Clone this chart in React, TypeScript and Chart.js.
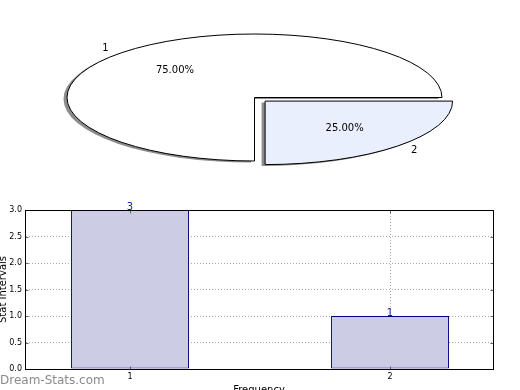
import React, { useEffect, useRef } from "react";
import { Chart, registerables } from "chart.js";

Chart.register(...registerables);

// ---- data ----
const pieLabels = ["1", "2"];
const pieValues = [75, 25];
const pieColors = ["#ffffff", "#e9effc"];
const pieExplode = [0, 60];

const barX = [1, 2];
const barCounts = [3, 1];
const xTicks = [1, 2];
const yTicks = [0, 0.5, 1, 1.5, 2, 2.5, 3];
const xMin = 0.596;
const xMax = 2.396;

// ---- layout constants ----
const PIE_CX = 254.5;
const PIE_CY = 97.5;
const PIE_RX = 187.5;
const PIE_RY = 63.5;
const K = PIE_RY / PIE_RX;
const FONT = "DejaVu Sans";

export default function App() {
  const pieRef = useRef<HTMLCanvasElement>(null);
  const barRef = useRef<HTMLCanvasElement>(null);

  useEffect(() => {
    let baseX = 0;
    let baseY = 0;
    const ellipsePlugin = {
      id: "ellipsePie",
      beforeDatasetsDraw(chart: any) {
        const ctx = chart.ctx;
        const arc0 = chart.getDatasetMeta(0).data[0];
        baseX = arc0.x;
        baseY = arc0.y;
        ctx.save();
        ctx.translate(PIE_CX, PIE_CY);
        ctx.scale(1, K);
        ctx.translate(-baseX, -baseY);
        ctx.shadowColor = "rgba(0,0,0,0.45)";
        ctx.shadowOffsetX = -3.5;
        ctx.shadowOffsetY = 1.5;
        ctx.shadowBlur = 0;
      },
      afterDatasetsDraw(chart: any) {
        const ctx = chart.ctx;
        ctx.restore();
        const meta = chart.getDatasetMeta(0);
        const values = chart.data.datasets[0].data as number[];
        const total = values.reduce((a, b) => a + b, 0);
        meta.data.forEach((arc: any, i: number) => {
          const { startAngle, endAngle, outerRadius } = arc;
          const mid = (startAngle + endAngle) / 2;
          const shift = (arc.options.offset || 0) / 4;
          const ox = PIE_CX + (arc.x - baseX) + Math.cos(mid) * shift;
          const oy = PIE_CY + (arc.y - baseY) * K + Math.sin(mid) * shift * K;
          const r = outerRadius;
          ctx.save();
          ctx.beginPath();
          ctx.moveTo(ox, oy);
          ctx.ellipse(ox, oy, r, r * K, 0, startAngle, endAngle);
          ctx.closePath();
          ctx.lineWidth = 1;
          ctx.strokeStyle = "#000";
          ctx.stroke();
          ctx.fillStyle = "#000";
          ctx.font = `10px "${FONT}"`;
          ctx.textBaseline = "middle";
          const c = Math.cos(mid);
          const s = Math.sin(mid);
          ctx.textAlign = c > 0 ? "left" : "right";
          ctx.fillText(String(chart.data.labels[i]), ox + c * 1.1 * r, oy + s * 1.1 * r * K);
          ctx.textAlign = "center";
          const pct = ((values[i] / total) * 100).toFixed(2) + "%";
          ctx.fillText(pct, ox + c * 0.6 * r, oy + s * 0.6 * r * K);
          ctx.restore();
        });
      },
    };

    const pie = new Chart(pieRef.current as HTMLCanvasElement, {
      type: "pie",
      data: {
        labels: pieLabels,
        datasets: [
          {
            data: pieValues,
            backgroundColor: pieColors,
            borderWidth: 0,
            offset: pieExplode,
            clip: false,
          } as any,
        ],
      },
      options: {
        responsive: false,
        animation: false,
        devicePixelRatio: 1,
        events: [],
        radius: PIE_RX,
        rotation: 180,
        plugins: { legend: { display: false }, tooltip: { enabled: false } },
      } as any,
      plugins: [ellipsePlugin],
    });

    const framePlugin = {
      id: "frame",
      afterDraw(chart: any) {
        const ctx = chart.ctx;
        const a = chart.chartArea;
        ctx.save();
        const l = Math.floor(a.left) + 0.5;
        const t = Math.floor(a.top) + 0.5;
        const rr = Math.floor(a.right) + 0.5;
        const b = Math.floor(a.bottom) + 0.5;
        // inside tick marks
        ctx.strokeStyle = "#666";
        ctx.lineWidth = 1;
        ctx.beginPath();
        const ys = chart.scales.y;
        ys.ticks.forEach((tk: any) => {
          const py = Math.round(ys.getPixelForValue(tk.value)) + 0.5;
          ctx.moveTo(l, py);
          ctx.lineTo(l + 3, py);
          ctx.moveTo(rr, py);
          ctx.lineTo(rr - 3, py);
        });
        const xs = chart.scales.x;
        xs.ticks.forEach((tk: any) => {
          const px = Math.round(xs.getPixelForValue(tk.value)) + 0.5;
          ctx.moveTo(px, b);
          ctx.lineTo(px, b - 3);
          ctx.moveTo(px, t);
          ctx.lineTo(px, t + 3);
        });
        ctx.stroke();
        // frame
        ctx.strokeStyle = "#000";
        ctx.strokeRect(l, t, rr - l, b - t);
        // value labels above bars
        const meta = chart.getDatasetMeta(0);
        ctx.fillStyle = "#2020a8";
        ctx.font = `10px "${FONT}"`;
        ctx.textAlign = "center";
        ctx.textBaseline = "alphabetic";
        meta.data.forEach((bar: any, i: number) => {
          ctx.fillText(String(barCounts[i]), bar.x, bar.y);
        });
        // watermark
        ctx.fillStyle = "#8a8a8a";
        ctx.font = `12px "${FONT}"`;
        ctx.textAlign = "left";
        ctx.fillText("Dream-Stats.com", 0, 384);
        ctx.restore();
      },
    };

    const tickFont = { family: FONT, size: 8 };
    const bar = new Chart(barRef.current as HTMLCanvasElement, {
      type: "bar",
      data: {
        datasets: [
          {
            data: barX.map((x, i) => ({ x, y: barCounts[i] })),
            backgroundColor: "#ccccE4",
            borderColor: "#000080",
            borderWidth: 1,
            borderSkipped: false,
            barPercentage: 0.4538,
            categoryPercentage: 1,
          } as any,
        ],
      },
      options: {
        responsive: false,
        animation: false,
        devicePixelRatio: 1,
        events: [],
        layout: { padding: { top: 210, right: 27, left: 0, bottom: 0 } },
        plugins: { legend: { display: false }, tooltip: { enabled: false } },
        scales: {
          x: {
            type: "linear",
            min: xMin,
            max: xMax,
            offset: false,
            z: 1,
            afterBuildTicks: (s: any) => {
              s.ticks = xTicks.map((v) => ({ value: v }));
            },
            afterFit: (s: any) => {
              s.height = 21;
            },
            ticks: { font: tickFont, color: "#000", padding: 3, callback: (v: any) => String(v) },
            grid: { offset: false, color: "#a8a8a8", drawTicks: false, lineWidth: 1 },
            border: { display: true, color: "#000", width: 1, dash: [1, 2] },
            title: {
              display: true,
              text: "Frequency",
              color: "#000",
              font: { family: FONT, size: 10 },
              padding: { top: 0, bottom: -6 },
            },
          },
          y: {
            min: 0,
            max: 3,
            z: 1,
            afterBuildTicks: (s: any) => {
              s.ticks = yTicks.map((v) => ({ value: v }));
            },
            afterFit: (s: any) => {
              s.width = 25;
            },
            ticks: {
              font: tickFont,
              color: "#000",
              padding: 3,
              callback: (v: any) => Number(v).toFixed(1),
            },
            grid: { color: "#a8a8a8", drawTicks: false, lineWidth: 1 },
            border: { display: true, color: "#000", width: 1, dash: [1, 2] },
            title: {
              display: true,
              text: "Stat Intervals",
              color: "#000",
              font: { family: FONT, size: 10 },
              padding: { top: -3, bottom: 0 },
            },
          },
        },
      } as any,
      plugins: [framePlugin],
    });

    return () => {
      pie.destroy();
      bar.destroy();
    };
  }, []);

  return (
    <div style={{ position: "absolute", left: 0, top: 0, width: 520, height: 390, background: "#fff", overflow: "hidden" }}>
      <canvas ref={barRef} width={520} height={390} style={{ position: "absolute", left: 0, top: 0 }} />
      <canvas ref={pieRef} width={520} height={200} style={{ position: "absolute", left: 0, top: 0 }} />
    </div>
  );
}
